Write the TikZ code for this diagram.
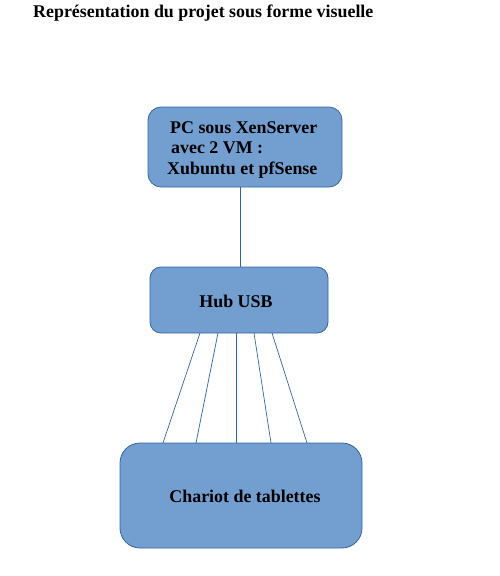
\documentclass[tikz,border=0pt]{standalone}
\usepackage{fontspec}
\setmainfont{Liberation Serif}
\definecolor{boxfill}{HTML}{729FCF}
\definecolor{boxline}{HTML}{3465A4}
\begin{document}
\begin{tikzpicture}[x=1pt,y=-1pt,
  box/.style={draw=boxline,fill=boxfill,line width=0.8pt},
  wire/.style={draw=boxline,line width=0.7pt},
  lbl/.style={font=\fontsize{17.9}{20.5}\selectfont\bfseries,inner sep=0pt}]
\useasboundingbox (0,0) rectangle (500,576);
% title
\node[lbl,anchor=base west] (title) at (33,17) {Représentation du projet sous forme visuelle};
% boxes
\path[box,rounded corners=13pt] (148,107) rectangle (342,187);
\coordinate (pcb) at (240,187);
\path[box,rounded corners=11pt] (150,267) rectangle (328,333);
\coordinate (hubt) at (240,267);
\path[box,rounded corners=20pt] (120,443) rectangle (362,548);
% texts
\node[lbl,anchor=base west,align=left] (pc) at (167,174)
  {\hspace*{3pt}PC sous XenServer\\\hspace*{4pt}avec 2 VM :\\Xubuntu et pfSense};
\node[lbl] (hub) at (236,301) {Hub USB};
\node[lbl] (chariot) at (245,496) {Chariot de tablettes};
% connectors
\coordinate (h1) at (200,333); \coordinate (c1) at (163,443);
\coordinate (h2) at (218,333); \coordinate (c2) at (196,443);
\coordinate (h3) at (236,333); \coordinate (c3) at (236,443);
\coordinate (h4) at (254,333); \coordinate (c4) at (271,443);
\coordinate (h5) at (272,333); \coordinate (c5) at (307,443);
\draw[wire] (pcb) -- (hubt);
\foreach \i in {1,...,5} \draw[wire] (h\i) -- (c\i);
\end{tikzpicture}
\end{document}
